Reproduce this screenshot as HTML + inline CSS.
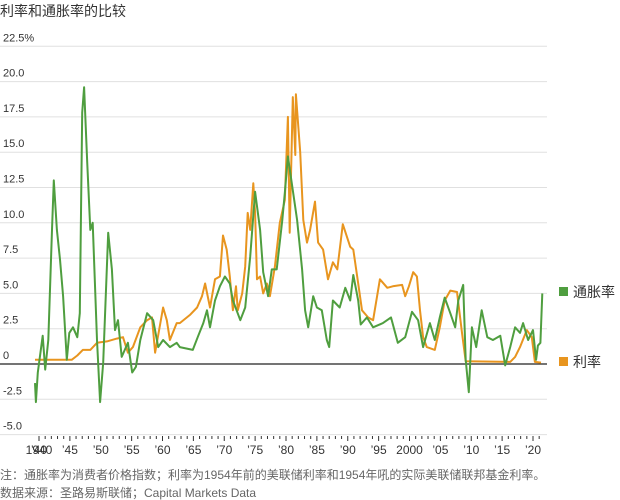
<!DOCTYPE html>
<html><head><meta charset="utf-8"><style>
body{margin:0;background:#fff;font-family:"Liberation Sans","Noto Sans CJK SC",sans-serif;}
#wrap{position:relative;width:620px;height:500px;overflow:hidden}
</style></head><body>
<div id="wrap">
<svg id="svg" width="620" height="500" style="font-family:'Liberation Sans','Noto Sans CJK SC',sans-serif">
<text x="0" y="16" font-size="14" fill="#333">利率和通胀率的比较</text>
<g id="grid"></g>
<g id="xaxis"></g>
<g id="series"></g>
<g>
<rect x="559" y="287" width="9" height="9" fill="#4f9e3f"/>
<text x="573" y="297" font-size="14" fill="#333">通胀率</text>
<rect x="559" y="357" width="9" height="9" fill="#e8951f"/>
<text x="573" y="367" font-size="14" fill="#333">利率</text>
</g>
<text x="0" y="479" font-size="12" fill="#666">注：通胀率为消费者价格指数；利率为1954年前的美联储利率和1954年吼的实际美联储联邦基金利率。</text>
<text x="0" y="497" font-size="12" fill="#666">数据来源：圣路易斯联储；Capital Markets Data</text>
</svg>
</div>
<script>
const yTicks=[22.5,20,17.5,15,12.5,10,7.5,5,2.5,0,-2.5,-5];
const yTickLabels=["22.5%","20.0","17.5","15.0","12.5","10.0","7.5","5.0","2.5","0","-2.5","-5.0"];
const xTickYears=[1940,1945,1950,1955,1960,1965,1970,1975,1980,1985,1990,1995,2000,2005,2010,2015,2020];
const xTickLabels=["1940","’45","’50","’55","’60","’65","’70","’75","’80","’85","’90","’95","2000","’05","’10","’15","’20"];
const inflYears=[1939.35,1939.5,1939.8,1940.6,1941.0,1941.5,1942.1,1942.4,1942.9,1943.4,1943.9,1944.5,1944.9,1945.5,1946.2,1946.6,1947.0,1947.3,1947.8,1948.3,1948.7,1949.4,1949.9,1950.4,1951.2,1951.8,1952.3,1952.8,1953.4,1954.4,1955.1,1955.7,1956.4,1957.5,1958.5,1959.3,1960.1,1961.2,1962.3,1962.8,1964.9,1965.7,1966.6,1967.2,1967.7,1968.5,1969.3,1970.1,1970.9,1971.4,1972.6,1973.4,1974.2,1975.0,1975.8,1976.3,1977.1,1977.7,1978.5,1979.4,1979.8,1980.3,1981.0,1981.8,1982.6,1983.1,1983.6,1984.4,1985.0,1985.8,1986.6,1987.0,1987.6,1988.7,1989.6,1990.4,1990.9,1991.7,1992.1,1993.1,1994.1,1995.7,1997.0,1998.1,1999.3,2000.4,2001.4,2002.2,2003.3,2004.1,2004.9,2005.7,2006.6,2007.4,2007.9,2008.7,2009.1,2009.6,2010.1,2010.8,2011.7,2012.6,2013.5,2014.7,2015.5,2016.3,2017.1,2017.9,2018.4,2019.2,2020.0,2020.5,2020.8,2021.2,2021.5];
const inflValues=[-1.35,-2.7,-0.6,2.0,-0.4,1.7,9.5,13.0,9.5,7.4,4.8,0.3,2.2,2.6,1.9,3.6,17.8,19.6,14.3,9.5,10.0,1.7,-2.7,0.1,9.3,6.7,2.4,3.1,0.5,1.5,-0.6,-0.2,1.7,3.6,3.1,1.2,1.7,1.2,1.5,1.2,1.0,1.9,2.9,3.8,2.6,4.5,5.5,6.2,5.7,4.5,3.1,4.0,7.6,12.2,9.5,6.5,4.8,6.7,6.7,10.2,12.1,14.7,12.6,10.2,6.7,3.8,2.6,4.8,4.0,3.8,1.7,1.2,4.5,4.0,5.4,4.5,6.3,4.5,2.8,3.3,2.6,2.9,3.3,1.5,1.9,3.7,3.1,1.2,2.9,1.7,3.3,4.7,3.6,2.6,4.5,5.6,0.3,-2.0,2.6,1.2,3.8,1.9,1.7,2.0,-0.1,1.2,2.6,2.2,2.9,1.7,2.4,0.3,1.3,1.5,5.0];
const rateYears=[1939.35,1945.3,1946.2,1947.1,1948.3,1949.4,1951.0,1952.6,1953.6,1954.4,1955.2,1956.4,1957.5,1958.3,1958.8,1960.1,1960.7,1961.2,1962.3,1962.8,1964.5,1965.6,1966.4,1966.9,1967.7,1968.5,1969.3,1969.8,1970.4,1970.9,1971.4,1971.9,1972.2,1972.9,1973.4,1973.8,1974.2,1974.7,1975.0,1975.3,1975.8,1976.3,1976.9,1977.4,1978.2,1979.0,1979.8,1980.3,1980.6,1981.1,1981.5,1981.6,1982.3,1982.8,1983.4,1983.9,1984.7,1985.2,1986.0,1986.8,1987.6,1988.3,1989.2,1990.4,1990.9,1991.7,1992.3,1993.3,1994.1,1995.2,1996.4,1997.3,1998.8,1999.3,1999.9,2000.6,2001.2,2001.7,2002.2,2002.8,2004.1,2004.9,2005.7,2006.6,2007.7,2008.5,2009.1,2016.3,2017.1,2017.9,2019.0,2019.8,2020.3,2021.3];
const rateValues=[0.3,0.3,0.6,1.0,1.0,1.5,1.6,1.8,1.9,0.8,1.2,2.6,3.1,3.3,0.8,4.0,3.1,1.7,2.9,2.9,3.5,4.0,4.8,5.7,4.0,6.0,6.2,9.1,8.1,6.2,3.8,5.5,3.8,5.0,6.9,10.7,9.5,12.8,10.7,6.0,6.2,5.0,5.7,4.8,6.9,10.0,11.6,17.5,9.3,18.9,14.8,19.1,15.0,10.2,8.6,9.5,11.5,8.6,8.1,6.0,7.2,6.7,9.9,8.3,8.1,5.7,3.8,3.3,3.1,6.0,5.4,5.5,5.6,4.8,5.5,6.5,6.2,3.8,1.9,1.2,1.0,2.6,4.5,5.2,5.1,2.2,0.2,0.15,0.5,1.2,2.4,1.9,0.15,0.1];

const NS="http://www.w3.org/2000/svg";
function x(yr){return 39+(yr-1940)*6.175;}
function y(v){return 364-v*14.12;}
function mk(tag,attrs,parent){const e=document.createElementNS(NS,tag);for(const k in attrs)e.setAttribute(k,attrs[k]);parent.appendChild(e);return e;}
const grid=document.getElementById('grid');
yTicks.forEach((t,i)=>{
  const l=mk('line',{x1:0,x2:547,y1:y(t),y2:y(t),stroke:t===0?'#222':'#e0e0e0','stroke-width':t===0?1.2:1},grid);
  
  
  const tx=mk('text',{x:3,y:y(t)-5,'font-size':11,fill:'#333'},grid);
  tx.textContent=yTickLabels[i];
  
  
});
const xa=document.getElementById('xaxis');
for(let yr=1940;yr<=2021;yr++){
  const major=yr%5===0;
  const t=mk('line',{x1:x(yr),x2:x(yr),y1:436,y2:major?441:439,stroke:'#333','stroke-width':1},xa);
  
  
}
xTickYears.forEach((yr,i)=>{
  const tx=mk('text',{x:x(yr),y:454,'font-size':12,fill:'#333','text-anchor':'middle'},xa);
  tx.textContent=xTickLabels[i];
  
  
});
const ex=mk('text',{x:x(1940),y:454,'font-size':12,fill:'#333','text-anchor':'middle'},xa);
ex.textContent="’40";


const ser=document.getElementById('series');
function line(xs,vs,color,name){
  const d=xs.map((yr,i)=>(i?'L':'M')+x(yr).toFixed(1)+','+y(vs[i]).toFixed(1)).join(' ');
  const p=mk('path',{d:d,fill:'none',stroke:color,'stroke-width':2,'stroke-linejoin':'round'},ser);
  
  
}
line(rateYears,rateValues,'#e8951f','rate-line');
line(inflYears,inflValues,'#4f9e3f','inflation-line');
</script>
</body></html>
